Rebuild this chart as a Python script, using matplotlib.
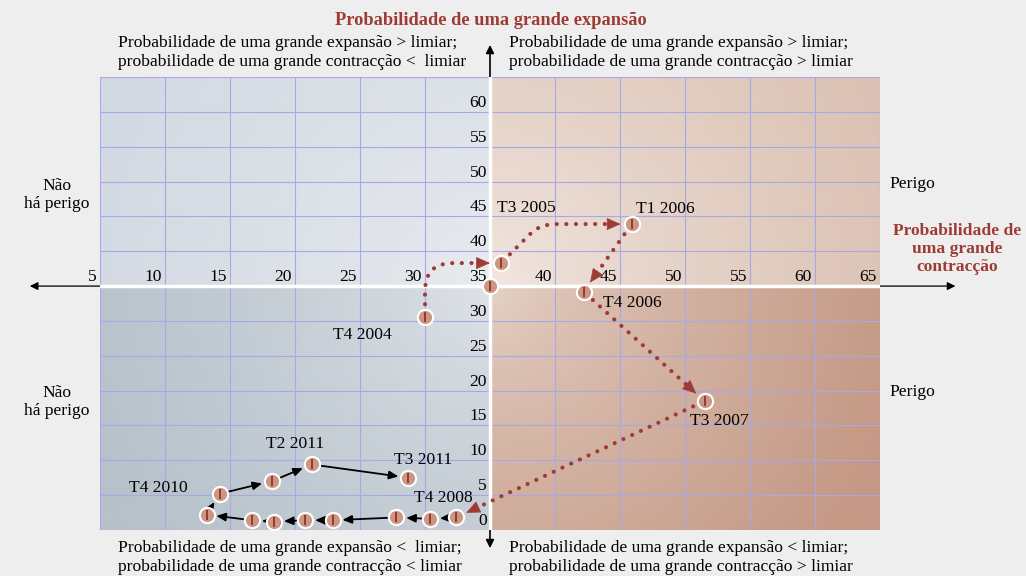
import matplotlib

matplotlib.use("Agg")
import matplotlib.pyplot as plt
import matplotlib.transforms as mtransforms
import numpy as np

plt.rcParams["font.family"] = ["Liberation Serif", "DejaVu Serif"]

# quarterly path (x: probability of contraction, y: probability of expansion)
labels = ["T4 2004", "T3 2005", "T1 2006", "T4 2006", "T3 2007", "T4 2008",
          "", "", "", "", "", "", "T4 2010", "", "", "T2 2011", "T3 2011"]
x_vals = [30.0, 35.85, 45.9, 42.2, 51.5, 32.4, 30.4, 27.8, 22.9, 20.8, 18.4, 16.7,
          13.2, 14.2, 18.2, 21.3, 28.7]
y_vals = [30.6, 38.3, 43.9, 34.2, 18.5, 1.8, 1.6, 1.8, 1.4, 1.4, 1.2, 1.4,
          2.2, 5.2, 7.0, 9.4, 7.5]
# label offsets in points
label_offsets = [(-45, -13), (18, 40), (24, 11), (35, -8), (11, -14), (-9, 14),
                 None, None, None, None, None, None, (-35, 19), None, None, (-12, 15), (11, 13)]
origin_point = (35.0, 35.0)
threshold = 35
x_ticks = list(range(5, 70, 5))
y_ticks_up = [40, 45, 50, 55, 60]
y_ticks_down = [0, 5, 10, 15, 20, 25, 30]

RED = "#9e3b34"
BG = "#eeeeee"
FS = 12.6

fig = plt.figure(figsize=(10.26, 5.76), dpi=100, facecolor=BG)
ax = fig.add_axes([100 / 1026, 46 / 576, 780 / 1026, 453 / 576])
ax.set_xlim(5, 65)
ax.set_ylim(0, 65)
ax.set_axis_off()

# quadrant background with soft light spot near the crossing
xs = np.linspace(5, 65, 600)
ys = np.linspace(0, 65, 400)
X, Y = np.meshgrid(xs, ys)
d = np.hypot((X - threshold) * 13, (Y - threshold) * 6.97)
t = np.clip(d / 430, 0, 1)[..., None] ** 0.7


def hexrgb(h):
    return np.array([int(h[i:i + 2], 16) / 255 for i in (1, 3, 5)])


quads = {
    (0, 1): ("#eaedf1", "#d3d9e2"),
    (0, 0): ("#e0e4e9", "#b6c1ca"),
    (1, 1): ("#f3e9e3", "#dbc2b4"),
    (1, 0): ("#e6d4c9", "#c49884"),
}
img = np.zeros(X.shape + (3,))
for (qx, qy), (near, far) in quads.items():
    mask = ((X >= threshold) == bool(qx)) & ((Y >= threshold) == bool(qy))
    col = hexrgb(near) + (hexrgb(far) - hexrgb(near)) * t
    img[mask] = col[mask]
ax.imshow(img, origin="lower", extent=(5, 65, 0, 65), aspect="auto", zorder=0,
          interpolation="bilinear")

# grid
ax.vlines(x_ticks, 0, 65, color="#a8a8e8", lw=0.8, zorder=1)
ax.hlines(list(range(0, 70, 5)), 5, 65, color="#a8a8e8", lw=0.8, zorder=1)

# black axes with arrows outside, white inside
ax.annotate("", xy=(-0.4, threshold), xytext=(70.8, threshold), annotation_clip=False,
            arrowprops=dict(arrowstyle="<|-|>", color="black", lw=0.9, mutation_scale=12,
                            shrinkA=0, shrinkB=0), zorder=2)
ax.annotate("", xy=(threshold, -2.6), xytext=(threshold, 69.6), annotation_clip=False,
            arrowprops=dict(arrowstyle="<|-|>", color="black", lw=1.2, mutation_scale=12,
                            shrinkA=0, shrinkB=0), zorder=2)
ax.axhline(threshold, color="white", lw=2.5, zorder=3)
ax.axvline(threshold, color="white", lw=2.5, zorder=3)

# tick labels
tx = mtransforms.offset_copy(ax.transData, fig=fig, x=-3, y=1, units="dots")
for v in x_ticks:
    ax.text(v, threshold, str(v), transform=tx, ha="right", va="bottom", fontsize=FS, zorder=4)
for v in y_ticks_up + y_ticks_down:
    ax.text(threshold, v, str(v), transform=tx, ha="right", va="bottom", fontsize=FS, zorder=4)


def unit_dir(p0, p1):
    a = ax.transData.transform(p0)
    b = ax.transData.transform(p1)
    v = b - a
    return v / np.hypot(*v)


def dotted_arrow(i, j, conn="arc3", end_dir=None):
    p0 = (x_vals[i], y_vals[i])
    p1 = (x_vals[j], y_vals[j])
    ax.annotate("", xy=p1, xytext=p0,
                arrowprops=dict(arrowstyle="-", color=RED, lw=3.0, linestyle=(0, (0.01, 2.3)),
                                capstyle="round", shrinkA=9, shrinkB=16, connectionstyle=conn),
                zorder=5)
    u = unit_dir(p0, p1) if end_dir is None else np.array(end_dir, dtype=float)
    ax.annotate("", xy=p1, xytext=(-u[0] * 17, -u[1] * 17), textcoords="offset points",
                arrowprops=dict(arrowstyle="-|>,head_length=0.45,head_width=0.2", color=RED,
                                lw=0.5, mutation_scale=20, shrinkA=0, shrinkB=8),
                zorder=5)


def black_arrow(i, j):
    ax.annotate("", xy=(x_vals[j], y_vals[j]), xytext=(x_vals[i], y_vals[i]),
                arrowprops=dict(arrowstyle="-|>,head_length=0.5,head_width=0.22", color="black",
                                lw=1.3, mutation_scale=11, shrinkA=6, shrinkB=7),
                zorder=5)


dotted_arrow(0, 1, "angle,angleA=90,angleB=0,rad=28", end_dir=(1, 0))
dotted_arrow(1, 2, "angle,angleA=45,angleB=0,rad=15", end_dir=(1, 0))
dotted_arrow(2, 3)
dotted_arrow(3, 4)
dotted_arrow(4, 5)
for k in range(5, len(x_vals) - 1):
    black_arrow(k, k + 1)

# markers
px = x_vals + [origin_point[0]]
py = y_vals + [origin_point[1]]
ax.plot(px, py, ls="none", marker="o", ms=11, mfc="#cc9682", mec="white", mew=1.5, zorder=6,
        clip_on=False)
ax.plot(px, py, ls="none", marker="|", ms=7, mec="#8a2c22", mew=1.2, zorder=7, clip_on=False)

for lab, xv, yv, off in zip(labels, x_vals, y_vals, label_offsets):
    if lab:
        ax.annotate(lab, (xv, yv), xytext=off, textcoords="offset points", ha="center",
                    va="center", fontsize=FS, zorder=8)

# surrounding text
fig.text(0.478, 0.965, "Probabilidade de uma grande expansão", ha="center", va="center",
         fontsize=13.2, fontweight="bold", color=RED)
fig.text(0.115, 0.909, "Probabilidade de uma grande expansão > limiar;\n"
         "probabilidade de uma grande contracção <  limiar", ha="left", va="center",
         fontsize=FS, linespacing=1.22)
fig.text(0.496, 0.909, "Probabilidade de uma grande expansão > limiar;\n"
         "probabilidade de uma grande contracção > limiar", ha="left", va="center",
         fontsize=FS, linespacing=1.22)
fig.text(0.115, 0.032, "Probabilidade de uma grande expansão <  limiar;\n"
         "probabilidade de uma grande contracção < limiar", ha="left", va="center",
         fontsize=FS, linespacing=1.22)
fig.text(0.496, 0.032, "Probabilidade de uma grande expansão < limiar;\n"
         "probabilidade de uma grande contracção > limiar", ha="left", va="center",
         fontsize=FS, linespacing=1.22)
for yy in (0.661, 0.302):
    fig.text(0.0556, yy, "Não\nhá perigo", ha="center", va="center", fontsize=FS,
             linespacing=1.17)
for yy in (0.681, 0.319):
    fig.text(0.8665, yy, "Perigo", ha="left", va="center", fontsize=FS)
fig.text(0.933, 0.568, "Probabilidade de\numa grande\ncontracção", ha="center", va="center",
         fontsize=FS, fontweight="bold", color=RED, linespacing=1.17)

fig.savefig("out.png", dpi=100, facecolor=BG)
